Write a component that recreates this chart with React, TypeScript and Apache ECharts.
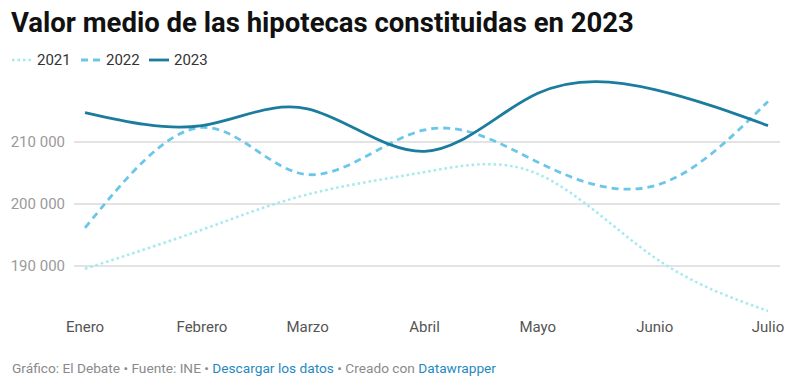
import React, { useEffect, useRef } from "react";
import * as echarts from "echarts";

const months = ["Enero", "Febrero", "Marzo", "Abril", "Mayo", "Junio", "Julio"];
const dates = ["2023-01-01", "2023-02-01", "2023-03-01", "2023-04-01", "2023-05-01", "2023-06-01", "2023-07-01"];
const years = ["2021", "2022", "2023"];
const v2021 = [189500, 195800, 201500, 205100, 204800, 191300, 182700];
const v2022 = [196100, 212300, 204700, 211900, 206700, 202900, 216500];
const v2023 = [214700, 212600, 215300, 208450, 217800, 218400, 212600];
const yTicks = [180000, 190000, 200000, 210000, 220000];

const fmt = (v: number) => String(v).replace(/\B(?=(\d{3})+(?!\d))/g, " ");
const toTime = (s: string) => +new Date(s + "T00:00:00");

// natural cubic spline control points (as in d3.curveNatural)
function controlPoints(x: number[]) {
  const n = x.length - 1;
  const a = new Array(n);
  const b = new Array(n);
  const r = new Array(n);
  a[0] = 0; b[0] = 2; r[0] = x[0] + 2 * x[1];
  for (let i = 1; i < n - 1; ++i) { a[i] = 1; b[i] = 4; r[i] = 4 * x[i] + 2 * x[i + 1]; }
  a[n - 1] = 2; b[n - 1] = 7; r[n - 1] = 8 * x[n - 1] + x[n];
  for (let i = 1; i < n; ++i) { const m = a[i] / b[i - 1]; b[i] -= m; r[i] -= m * r[i - 1]; }
  a[n - 1] = r[n - 1] / b[n - 1];
  for (let i = n - 2; i >= 0; --i) a[i] = (r[i] - a[i + 1]) / b[i];
  b[n - 1] = (x[n] + a[n - 1]) / 2;
  for (let i = 0; i < n - 1; ++i) b[i] = 2 * x[i + 1] - a[i + 1];
  return [a, b];
}

function naturalPath(pts: number[][]) {
  const xs = pts.map((p) => p[0]);
  const ys = pts.map((p) => p[1]);
  const [ax, bx] = controlPoints(xs);
  const [ay, by] = controlPoints(ys);
  let d = `M${xs[0]},${ys[0]}`;
  for (let i = 0; i < xs.length - 1; i++) {
    d += `C${ax[i]},${ay[i]},${bx[i]},${by[i]},${xs[i + 1]},${ys[i + 1]}`;
  }
  return d;
}

export default function App() {
  const ref = useRef<HTMLDivElement>(null);
  useEffect(() => {
    document.body.style.margin = "0";
    const chart = echarts.init(ref.current!, null, { renderer: "svg" });
    const font = "Roboto, 'Noto Sans', sans-serif";
    const top = 79.7;
    const height = 248;
    const yMin = yTicks[0];
    const yMax = yTicks[yTicks.length - 1];
    const colors = ["#a3e9ef", "#6cc6ea", "#1b7c9e"];
    const dashes: any[] = [[2.5, 3], [7, 5], null];
    const widths = [2.5, 2.8, 2.8];
    const datasets = [v2021, v2022, v2023];
    const times = dates.map(toTime);

    const legendX = [12, 81, 149];
    const legendGraphics: any[] = [];
    years.forEach((y, i) => {
      legendGraphics.push({
        type: "line",
        shape: { x1: legendX[i], y1: 60, x2: legendX[i] + 20, y2: 60 },
        style: { stroke: colors[i], lineWidth: widths[i], lineDash: dashes[i] || undefined },
      });
      legendGraphics.push({
        type: "text",
        x: legendX[i] + 25,
        y: 60,
        style: { text: y, fill: "#333", font: `15px ${font}`, verticalAlign: "middle" },
      });
    });

    chart.setOption({
      animation: false,
      textStyle: { fontFamily: font },
      title: {
        text: "Valor medio de las hipotecas constituidas en 2023",
        left: 6,
        top: 3,
        textStyle: { fontSize: 27.5, fontWeight: "bold", color: "#111", fontFamily: font },
      },
      grid: [
        { left: 74, right: 17, top, height },
        { left: 85, right: 29, top, height },
      ],
      xAxis: [
        { type: "value", gridIndex: 0, show: false, min: 0, max: 1 },
        {
          type: "time",
          gridIndex: 1,
          min: times[0],
          max: times[times.length - 1],
          splitNumber: 6,
          axisLine: { show: false },
          axisTick: { show: false },
          splitLine: { show: false },
          axisLabel: {
            margin: -8,
            fontSize: 15,
            color: "#555",
            fontFamily: font,
            showMinLabel: true,
            showMaxLabel: true,
            hideOverlap: false,
            formatter: (val: number) => {
              const idx = times.findIndex((t) => Math.abs(t - val) < 36e5 * 12);
              return idx >= 0 ? months[idx] : "";
            },
          },
        },
      ],
      yAxis: [
        {
          type: "value",
          gridIndex: 0,
          min: yMin,
          max: yMax,
          interval: 10000,
          axisLine: { show: false },
          axisTick: { show: false },
          axisLabel: {
            margin: 9,
            fontSize: 15,
            color: "#9a9a9a",
            fontFamily: font,
            formatter: (v: number) => (v === yMin || v === yMax ? "" : fmt(v)),
          },
          splitLine: {
            lineStyle: {
              width: 2,
              color: ["rgba(0,0,0,0)", "#e3e3e3", "#e3e3e3", "#e3e3e3", "rgba(0,0,0,0)"],
            },
          },
        },
        { type: "value", gridIndex: 1, min: yMin, max: yMax, show: false, splitLine: { show: false } },
      ],
      series: years.map((y, i) => {
        const vals = datasets[i];
        return {
          name: y,
          type: "custom",
          xAxisIndex: 1,
          yAxisIndex: 1,
          data: vals.map((v, j) => [times[j], v]),
          encode: { x: 0, y: 1 },
          z: 2 + i,
          renderItem: (params: any, api: any) => {
            if (params.dataIndex !== 0) return null;
            const pts = vals.map((v, j) => api.coord([times[j], v]));
            return {
              type: "path",
              shape: { pathData: naturalPath(pts) },
              style: {
                fill: "none",
                stroke: colors[i],
                lineWidth: widths[i],
                lineDash: dashes[i] || undefined,
              },
            };
          },
        };
      }),
      graphic: [
        ...legendGraphics,
        {
          type: "text",
          left: 12,
          top: 361,
          style: {
            text:
              "{g|Gráfico: El Debate • Fuente: INE • }{b|Descargar los datos}{g| • Creado con }{b|Datawrapper}",
            font: `13.7px ${font}`,
            rich: {
              g: { fill: "#8a8a8a", fontSize: 13.7, fontFamily: font },
              b: { fill: "#1f89bf", fontSize: 13.7, fontFamily: font },
            },
          },
        },
      ],
    });
    return () => chart.dispose();
  }, []);
  return <div ref={ref} style={{ width: 797, height: 390 }} />;
}
